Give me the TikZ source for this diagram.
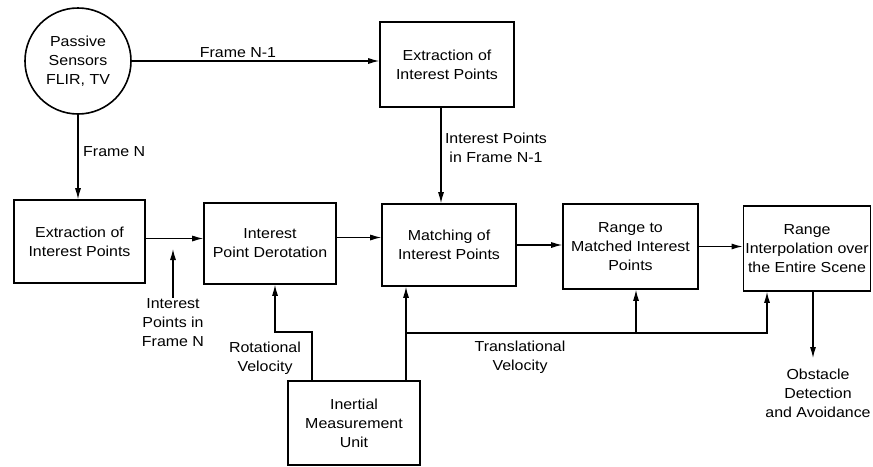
\documentclass[tikz,border=0pt]{standalone}
\usepackage{fontspec}
\setmainfont[FakeStretch=1.1]{Liberation Sans}
\usetikzlibrary{arrows.meta}

\begin{document}
\begin{tikzpicture}[x=1pt, y=-1pt, font=\fontsize{14.5}{19}\selectfont,
  block/.style={draw, line width=1.6pt, align=center, inner sep=2pt},
  arr/.style={-{Latex[length=11pt,width=6pt]}, line width=1.1pt},
  lbl/.style={align=center, inner sep=1pt}]
  \useasboundingbox (0,0) rectangle (873,466);
  % sensor and the blocks
  \node[circle, draw, line width=1.6pt, minimum size=106pt, inner sep=0pt, align=center] (sensors) at (78,61) {Passive\\Sensors\\FLIR, TV};
  \node[block, minimum width=134pt, minimum height=85pt] (extB) at (447,64.5) {Extraction of\\Interest Points};
  \node[block, minimum width=131pt, minimum height=83pt] (extA) at (79.5,241.5) {Extraction of\\Interest Points};
  \node[block, minimum width=132pt, minimum height=81pt] (derot) at (270,243.5) {Interest\\Point Derotation};
  \node[block, minimum width=134pt, minimum height=82pt] (match) at (449,245) {Matching of\\Interest Points};
  \node[block, minimum width=135pt, minimum height=85pt] (range) at (630.5,246.5) {Range to\\Matched Interest\\Points};
  \node[block, minimum width=126pt, minimum height=85pt] (interp) at (807,248.5) {Range\\Interpolation over\\the Entire Scene};
  \node[block, minimum width=132pt, minimum height=84pt] (imu) at (354,423) {Inertial\\Measurement\\Unit};
  % labels
  \node[lbl] (fN1) at (238,53) {Frame N-1};
  \node[lbl, anchor=west] (fN) at (82,152) {Frame N};
  \node[lbl] (ipN1) at (496,148) {Interest Points\\in Frame N-1};
  \node[lbl] (ipN) at (173,323) {Interest\\Points in\\Frame N};
  \node[lbl] (rot) at (265,358) {Rotational\\Velocity};
  \node[lbl] (trl) at (520,357) {Translational\\Velocity};
  \node[lbl] (obst) at (818,393) {Obstacle\\Detection\\and Avoidance};
  \coordinate (ipnTip) at (173,249);
  \coordinate (rotbend) at (275,332);
  \coordinate (trans) at (406,333);
  \coordinate (rangeFoot) at (636,333);
  \coordinate (transEnd) at (767,333);
  \coordinate (obstTip) at (813,358);
  % connectors
  \draw[arr] (sensors.east) -- (sensors.east -| extB.west);
  \draw[arr] (sensors.south) -- (sensors.south |- extA.north);
  \draw[arr] ([xshift=-6pt]extB.south) -- ([xshift=-6pt]extB.south |- match.north);
  \draw[arr] ([yshift=3pt]extA.east) -- ([yshift=3pt]extA.east -| derot.west);
  \draw[arr] ([yshift=6pt]derot.east) -- ([yshift=6pt]derot.east -| match.west);
  \draw[arr] (match.east) -- (match.east -| range.west);
  \draw[arr] (range.east) -- (range.east -| interp.west);
  \draw[arr] (ipN.north) -- (ipN.north |- ipnTip);
  \draw[arr] ([xshift=-42pt]imu.north) |- (rotbend) -- (rotbend |- derot.south);
  \draw[arr] ([xshift=52pt]imu.north) -- ([xshift=52pt]imu.north |- match.south);
  \draw[arr] (trans) -- (transEnd) -- (transEnd |- interp.south);
  \draw[arr] (rangeFoot) -- (rangeFoot |- range.south);
  \draw[arr] (interp.south -| obstTip) -- (obstTip);
\end{tikzpicture}
\end{document}
